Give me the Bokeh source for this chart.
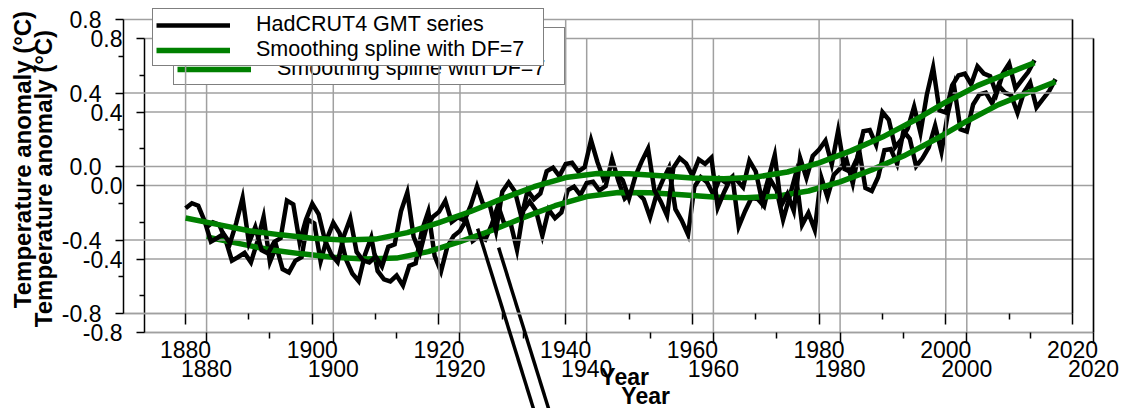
import math
from bokeh.plotting import figure
from bokeh.models import (ColumnDataSource, FixedTicker, NumeralTickFormatter, LinearAxis,
                          Legend, LegendItem, Label, Arrow, Range1d, Column)
from bokeh.embed import file_html
from bokeh.resources import INLINE

# ---------------- data ----------------
years = list(range(1880, 2015))
anomaly = [
    -0.227, -0.200, -0.213, -0.296, -0.409, -0.389, -0.367, -0.418, -0.307, -0.171,  # 1880s
    -0.416, -0.330, -0.455, -0.473, -0.410, -0.390, -0.186, -0.206, -0.412, -0.289,  # 1890s
    -0.203, -0.259, -0.402, -0.479, -0.520, -0.377, -0.283, -0.465, -0.511, -0.522,  # 1900s
    -0.490, -0.544, -0.437, -0.424, -0.244, -0.141, -0.383, -0.468, -0.333, -0.275,  # 1910s
    -0.247, -0.187, -0.302, -0.276, -0.294, -0.215, -0.108, -0.210, -0.206, -0.350,  # 1920s
    -0.137, -0.087, -0.137, -0.273, -0.131, -0.178, -0.147, -0.026, -0.006, -0.052,  # 1930s
    0.014, 0.020, -0.027, -0.004, 0.144, 0.025, -0.071, -0.038, -0.039, -0.074,      # 1940s
    -0.173, -0.052, 0.028, 0.097, -0.129, -0.190, -0.267, -0.007, 0.046, 0.017,      # 1950s
    -0.049, 0.038, 0.014, 0.048, -0.223, -0.140, -0.068, -0.074, -0.113, 0.032,      # 1960s
    -0.027, -0.186, -0.065, 0.062, -0.214, -0.149, -0.241, 0.047, -0.062, 0.057,     # 1970s
    0.092, 0.140, 0.011, 0.194, -0.014, -0.030, 0.045, 0.192, 0.198, 0.118,          # 1980s
    0.296, 0.254, 0.105, 0.148, 0.208, 0.325, 0.183, 0.390, 0.539, 0.306,            # 1990s
    0.294, 0.441, 0.496, 0.505, 0.447, 0.545, 0.506, 0.491, 0.395, 0.506,            # 2000s
    0.560, 0.425, 0.470, 0.514, 0.579,                                               # 2010-2014
]
spline_years = [1880, 1885, 1890, 1895, 1900, 1905, 1910, 1915, 1920, 1925,
                1930, 1935, 1940, 1945, 1950, 1955, 1960, 1965, 1970, 1975,
                1980, 1985, 1990, 1995, 2000, 2005, 2010, 2014]
spline_values = [-0.28, -0.315, -0.35, -0.372, -0.39, -0.40, -0.395, -0.36, -0.305, -0.245,
                 -0.175, -0.11, -0.06, -0.038, -0.04, -0.05, -0.062, -0.067, -0.058, -0.03,
                 0.02, 0.085, 0.16, 0.25, 0.35, 0.44, 0.51, 0.565]

x_ticks = [1880, 1900, 1920, 1940, 1960, 1980, 2000, 2020]
x_minor_ticks = [1890, 1910, 1930, 1950, 1970, 1990, 2010]
y_ticks = [-0.8, -0.4, 0.0, 0.4, 0.8]
y_minor_ticks = [-0.6, -0.2, 0.2, 0.6]
x_lo, x_hi = 1870.2, 2020.0          # plotted data window
y_lo, y_hi = -0.8, 0.8

legend_labels = ["HadCRUT4 GMT series", "Smoothing spline with DF=7"]
x_title = "Year"
y_title = "Temperature anomaly (°C)"

# stray pointer line (start / end in data units)
pointer_x = [1926.1, 1937.0]
pointer_y = [-0.338, -1.55]

FONT = "Liberation Sans"
GRID = "#a0a0a0"

# pixel layout of the data window inside each figure
LEFT, TOP, FW, FH = 123, 19, 949, 294


def build(on_top):
    w, h = (1133, 408) if on_top else (1112, 389)
    sx = FW / (x_hi - x_lo)
    sy = FH / (y_hi - y_lo)
    xr = Range1d(x_lo - LEFT / sx, x_hi + (w - LEFT - FW) / sx)
    yr = Range1d(y_lo - (h - TOP - FH) / sy, y_hi + TOP / sy)
    p = figure(width=w, height=h, x_range=xr, y_range=yr,
               output_backend="svg", toolbar_location=None,
               min_border=0, min_border_left=0, min_border_right=0,
               min_border_top=0, min_border_bottom=0)
    p.outline_line_color = None
    if on_top:
        p.background_fill_color = None
        p.border_fill_color = None
    else:
        p.background_fill_color = "white"
        p.border_fill_color = "white"
    p.xgrid.visible = False
    p.ygrid.visible = False

    xt = FixedTicker(ticks=x_ticks, minor_ticks=x_minor_ticks)
    yt = FixedTicker(ticks=y_ticks, minor_ticks=y_minor_ticks)

    # grid lines limited to the data window
    n = len(x_ticks)
    p.segment(x0=x_ticks, y0=[y_lo] * n, x1=x_ticks, y1=[y_hi] * n,
              line_color=GRID, line_width=1.5, level="underlay")
    m = len(y_ticks)
    p.segment(x0=[x_lo] * m, y0=y_ticks, x1=[x_hi] * m, y1=y_ticks,
              line_color=GRID, line_width=1.5, level="underlay")

    xa = p.xaxis[0]
    xa.ticker = xt
    xa.fixed_location = y_lo
    xa.bounds = (x_lo, x_hi)
    xa.axis_line_color = GRID
    xa.axis_line_width = 1.5
    xa.major_tick_line_color = "black"
    xa.minor_tick_line_color = "black"
    xa.major_tick_line_width = 1.5
    xa.minor_tick_line_width = 1.5
    xa.major_tick_in = 0
    xa.minor_tick_in = 0
    xa.major_tick_out = 11
    xa.minor_tick_out = 6
    xa.major_label_standoff = 16
    xa.major_label_text_font = FONT
    xa.major_label_text_font_size = "23px"
    xa.major_label_text_color = "black"

    ya = p.yaxis[0]
    ya.ticker = yt
    ya.fixed_location = x_lo
    ya.bounds = (y_lo, y_hi)
    ya.formatter = NumeralTickFormatter(format="0.0")
    ya.axis_line_color = "black"
    ya.axis_line_width = 1.5
    ya.major_tick_line_color = "black"
    ya.minor_tick_line_color = "black"
    ya.major_tick_line_width = 1.5
    ya.minor_tick_line_width = 1.5
    ya.major_tick_in = 0
    ya.minor_tick_in = 0
    ya.major_tick_out = 8
    ya.minor_tick_out = 5
    ya.major_label_standoff = 14
    ya.major_label_text_font = FONT
    ya.major_label_text_font_size = "23px"
    ya.major_label_text_color = "black"

    ra = LinearAxis(ticker=FixedTicker(ticks=[]), major_label_text_font_size="0px",
                    major_tick_out=0, minor_tick_out=0, major_tick_in=0, minor_tick_in=0,
                    axis_line_color="black", axis_line_width=1.5,
                    fixed_location=x_hi, bounds=(y_lo, y_hi))
    p.add_layout(ra, "right")

    src = ColumnDataSource(dict(year=years, anomaly=anomaly))
    r_data = p.line("year", "anomaly", source=src, line_color="black",
                    line_width=4.5, line_join="miter")
    ssrc = ColumnDataSource(dict(year=spline_years, value=spline_values))
    r_spl = p.line("year", "value", source=ssrc, line_color="#008000", line_width=5.5)

    p.add_layout(Arrow(end=None, x_start=pointer_x[0], y_start=pointer_y[0],
                       x_end=pointer_x[1], y_end=pointer_y[1],
                       line_color="black", line_width=3.5))

    p.add_layout(Label(x=1949.3, y=-1.143, text=x_title, text_align="center",
                       text_baseline="alphabetic", text_font=FONT,
                       text_font_size="23px", text_font_style="bold", text_color="black"))
    p.add_layout(Label(x=1854.2, y=0.038, text=y_title, angle=math.pi / 2,
                       text_align="center", text_baseline="alphabetic", text_font=FONT,
                       text_font_size="24px", text_font_style="bold", text_color="black"))

    legend = Legend(items=[LegendItem(label=legend_labels[0], renderers=[r_data]),
                           LegendItem(label=legend_labels[1], renderers=[r_spl])],
                    location=(152, h - 66))
    legend.label_text_font = FONT
    legend.label_text_font_size = "21.5px"
    legend.label_text_color = "black"
    legend.border_line_color = "black"
    legend.border_line_width = 1.5
    legend.background_fill_color = "white"
    legend.background_fill_alpha = 1.0
    legend.padding = 3
    legend.spacing = 0
    legend.margin = 0
    legend.glyph_width = 74
    legend.label_standoff = 26
    legend.label_width = 284
    p.add_layout(legend)
    return p


p_back = build(False)
p_back.margin = (19, 0, 0, 21)
p_front = build(True)
p_front.margin = (-408, 0, 0, 0)

p = Column(children=[p_back, p_front], width=1133, height=408,
           styles={"overflow": "hidden"})

open("out.html", "w").write(file_html(p, INLINE))
